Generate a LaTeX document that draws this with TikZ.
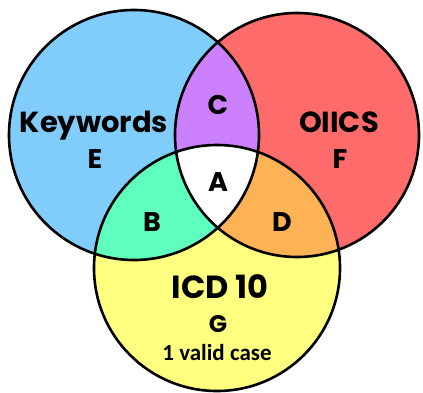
\documentclass[tikz,border=0pt]{standalone}
\usepackage{fontspec}
\setmainfont{Poppins}
\newfontfamily\calib{Carlito}
\definecolor{cblue}{HTML}{80CDFC}
\definecolor{cred}{HTML}{FE6B6B}
\definecolor{cyel}{HTML}{FFFF80}
\definecolor{cpur}{HTML}{CC80FC}
\definecolor{cgrn}{HTML}{5FFDBE}
\definecolor{corg}{HTML}{FDB355}
\tikzset{
  lbl/.style={font=\bfseries\fontsize{27}{29}\selectfont, inner sep=0pt, anchor=base},
  big/.style={font=\bfseries\fontsize{29}{31}\selectfont, inner sep=0pt, anchor=base},
  outline/.style={draw=black, line width=2.6pt}
}
\begin{document}
\begin{tikzpicture}[x=1pt,y=-1pt]
\useasboundingbox (0,0) rectangle (423,393);
\def\lc{(134,135) circle (125)}
\def\rc{(297,135) circle (122)}
\def\bc{(217,268) circle (123)}
\fill[cblue] \lc;
\fill[cred] \rc;
\fill[cyel] \bc;
\begin{scope}\clip \lc; \fill[cpur] \rc; \end{scope}
\begin{scope}\clip \lc; \fill[cgrn] \bc; \end{scope}
\begin{scope}\clip \rc; \fill[corg] \bc; \end{scope}
\begin{scope}\clip \lc; \clip \rc; \fill[white] \bc; \end{scope}
\draw[outline] \lc;
\draw[outline] \rc;
\draw[outline] \bc;
\node[big] (kw) at (94,132) {Keywords};
\node[lbl] (e) at (95,168) {E};
\node[lbl] (c) at (218,115) {C};
\node[big] (oi) at (339,132) {OIICS};
\node[lbl] (f) at (340,168) {F};
\node[lbl] (a) at (218,191) {A};
\node[lbl] (b) at (152,231) {B};
\node[lbl] (d) at (282,231) {D};
\node[big, font=\bfseries\fontsize{32}{34}\selectfont] (icd) at (220,298) {ICD 10};
\node[lbl, font=\bfseries\fontsize{24}{26}\selectfont] (g) at (218,332) {G};
\node[anchor=base, font=\calib\bfseries\fontsize{23}{25}\selectfont, inner sep=0pt] (vc) at (217,360) {1 valid case};
\end{tikzpicture}
\end{document}
